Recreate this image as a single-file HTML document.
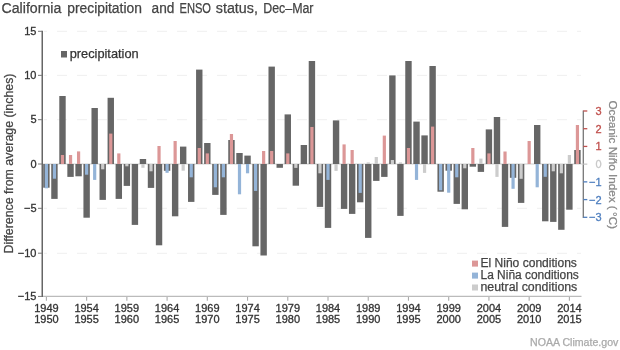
<!DOCTYPE html>
<html><head><meta charset="utf-8"><style>
html,body{margin:0;padding:0;background:#fff;width:620px;height:350px;overflow:hidden;}
svg{display:block;will-change:transform;}
</style></head><body>
<svg width="620" height="350" viewBox="0 0 620 350">
<style>
text{font-family:"Liberation Sans",sans-serif;}
.tk{font-size:11px;fill:#333333;stroke:#333333;stroke-width:0.3px;}
text{paint-order:normal;}
</style>
<rect x="0" y="0" width="620" height="350" fill="#ffffff"/>
<text x="1.50" y="12.9" font-size="14" fill="#444444" stroke="#444444" stroke-width="0.25" textLength="59.80" lengthAdjust="spacingAndGlyphs">California</text><text x="67.20" y="12.9" font-size="14" fill="#444444" stroke="#444444" stroke-width="0.25" textLength="74.70" lengthAdjust="spacingAndGlyphs">precipitation</text><text x="151.60" y="12.9" font-size="14" fill="#444444" stroke="#444444" stroke-width="0.25" textLength="22.80" lengthAdjust="spacingAndGlyphs">and</text><text x="179.50" y="12.9" font-size="14" fill="#444444" stroke="#444444" stroke-width="0.25" textLength="31.50" lengthAdjust="spacingAndGlyphs">ENSO</text><text x="215.80" y="12.9" font-size="14" fill="#444444" stroke="#444444" stroke-width="0.25" textLength="42.10" lengthAdjust="spacingAndGlyphs">status,</text><text x="263.20" y="12.9" font-size="14" fill="#444444" stroke="#444444" stroke-width="0.25" textLength="50.30" lengthAdjust="spacingAndGlyphs">Dec–Mar</text>
<line x1="44" y1="31.30" x2="581" y2="31.30" stroke="#efefef" stroke-width="1" stroke-dasharray="10 10" stroke-dashoffset="7"/><line x1="44" y1="75.35" x2="581" y2="75.35" stroke="#efefef" stroke-width="1" stroke-dasharray="10 10" stroke-dashoffset="7"/><line x1="44" y1="119.70" x2="581" y2="119.70" stroke="#efefef" stroke-width="1" stroke-dasharray="10 10" stroke-dashoffset="7"/><line x1="44" y1="208.30" x2="581" y2="208.30" stroke="#efefef" stroke-width="1" stroke-dasharray="10 10" stroke-dashoffset="7"/><line x1="44" y1="253.30" x2="581" y2="253.30" stroke="#efefef" stroke-width="1" stroke-dasharray="10 10" stroke-dashoffset="7"/>
<line x1="43" y1="164.0" x2="582" y2="164.0" stroke="#cfcfcf" stroke-width="1"/>
<rect x="43.20" y="164.00" width="6.40" height="23.70" fill="#666666"/><rect x="51.25" y="164.00" width="6.40" height="34.90" fill="#666666"/><rect x="59.29" y="96.00" width="6.40" height="68.00" fill="#666666"/><rect x="67.34" y="164.00" width="6.40" height="12.90" fill="#666666"/><rect x="75.38" y="164.00" width="6.40" height="12.30" fill="#666666"/><rect x="83.43" y="164.00" width="6.40" height="53.70" fill="#666666"/><rect x="91.48" y="108.00" width="6.40" height="56.00" fill="#666666"/><rect x="99.52" y="164.00" width="6.40" height="35.90" fill="#666666"/><rect x="107.57" y="97.80" width="6.40" height="66.20" fill="#666666"/><rect x="115.61" y="164.00" width="6.40" height="34.90" fill="#666666"/><rect x="123.66" y="164.00" width="6.40" height="21.90" fill="#666666"/><rect x="131.71" y="164.00" width="6.40" height="60.90" fill="#666666"/><rect x="139.75" y="159.00" width="6.40" height="5.00" fill="#666666"/><rect x="147.80" y="164.00" width="6.40" height="23.90" fill="#666666"/><rect x="155.84" y="164.00" width="6.40" height="81.30" fill="#666666"/><rect x="163.89" y="164.00" width="6.40" height="6.80" fill="#666666"/><rect x="171.94" y="164.00" width="6.40" height="52.30" fill="#666666"/><rect x="179.98" y="146.60" width="6.40" height="17.40" fill="#666666"/><rect x="188.03" y="164.00" width="6.40" height="37.90" fill="#666666"/><rect x="196.07" y="69.60" width="6.40" height="94.40" fill="#666666"/><rect x="204.12" y="143.00" width="6.40" height="21.00" fill="#666666"/><rect x="212.17" y="164.00" width="6.40" height="30.90" fill="#666666"/><rect x="220.21" y="164.00" width="6.40" height="50.90" fill="#666666"/><rect x="228.26" y="140.00" width="6.40" height="24.00" fill="#666666"/><rect x="236.30" y="153.00" width="6.40" height="11.00" fill="#666666"/><rect x="244.35" y="155.60" width="6.40" height="8.40" fill="#666666"/><rect x="252.40" y="164.00" width="6.40" height="82.30" fill="#666666"/><rect x="260.44" y="164.00" width="6.40" height="91.50" fill="#666666"/><rect x="268.49" y="66.60" width="6.40" height="97.40" fill="#666666"/><rect x="276.53" y="164.00" width="6.40" height="3.80" fill="#666666"/><rect x="284.58" y="114.40" width="6.40" height="49.60" fill="#666666"/><rect x="292.63" y="164.00" width="6.40" height="21.70" fill="#666666"/><rect x="300.67" y="145.00" width="6.40" height="19.00" fill="#666666"/><rect x="308.72" y="61.00" width="6.40" height="103.00" fill="#666666"/><rect x="316.76" y="164.00" width="6.40" height="42.90" fill="#666666"/><rect x="324.81" y="164.00" width="6.40" height="63.90" fill="#666666"/><rect x="332.86" y="120.40" width="6.40" height="43.60" fill="#666666"/><rect x="340.90" y="164.00" width="6.40" height="44.90" fill="#666666"/><rect x="348.95" y="164.00" width="6.40" height="49.90" fill="#666666"/><rect x="356.99" y="164.00" width="6.40" height="38.30" fill="#666666"/><rect x="365.04" y="164.00" width="6.40" height="73.90" fill="#666666"/><rect x="373.09" y="164.00" width="6.40" height="16.90" fill="#666666"/><rect x="381.13" y="164.00" width="6.40" height="12.90" fill="#666666"/><rect x="389.18" y="75.40" width="6.40" height="88.60" fill="#666666"/><rect x="397.22" y="164.00" width="6.40" height="51.90" fill="#666666"/><rect x="405.27" y="61.00" width="6.40" height="103.00" fill="#666666"/><rect x="413.32" y="121.60" width="6.40" height="42.40" fill="#666666"/><rect x="421.36" y="135.40" width="6.40" height="28.60" fill="#666666"/><rect x="429.41" y="66.00" width="6.40" height="98.00" fill="#666666"/><rect x="437.45" y="164.00" width="6.40" height="27.70" fill="#666666"/><rect x="445.50" y="164.00" width="6.40" height="6.70" fill="#666666"/><rect x="453.55" y="164.00" width="6.40" height="39.90" fill="#666666"/><rect x="461.59" y="164.00" width="6.40" height="45.30" fill="#666666"/><rect x="469.64" y="164.00" width="6.40" height="2.70" fill="#666666"/><rect x="477.68" y="164.00" width="6.40" height="7.90" fill="#666666"/><rect x="485.73" y="129.40" width="6.40" height="34.60" fill="#666666"/><rect x="493.78" y="117.00" width="6.40" height="47.00" fill="#666666"/><rect x="501.82" y="164.00" width="6.40" height="62.90" fill="#666666"/><rect x="509.87" y="164.00" width="6.40" height="13.80" fill="#666666"/><rect x="517.91" y="164.00" width="6.40" height="38.90" fill="#666666"/><rect x="534.01" y="125.00" width="6.40" height="39.00" fill="#666666"/><rect x="542.05" y="164.00" width="6.40" height="57.30" fill="#666666"/><rect x="550.10" y="164.00" width="6.40" height="57.90" fill="#666666"/><rect x="558.14" y="164.00" width="6.40" height="65.80" fill="#666666"/><rect x="566.19" y="164.00" width="6.40" height="45.70" fill="#666666"/><rect x="574.24" y="150.00" width="6.40" height="14.00" fill="#666666"/><rect x="44.80" y="164.00" width="3.20" height="24.30" fill="#94b4d8"/><rect x="52.85" y="164.00" width="3.20" height="14.70" fill="#94b4d8"/><rect x="60.89" y="155.00" width="3.20" height="9.00" fill="#dc9797"/><rect x="68.94" y="155.00" width="3.20" height="9.00" fill="#dc9797"/><rect x="76.98" y="151.40" width="3.20" height="12.60" fill="#dc9797"/><rect x="85.03" y="164.00" width="3.20" height="10.70" fill="#94b4d8"/><rect x="93.08" y="164.00" width="3.20" height="15.90" fill="#94b4d8"/><rect x="101.12" y="164.00" width="3.20" height="5.30" fill="#cccccc"/><rect x="109.17" y="133.60" width="3.20" height="30.40" fill="#dc9797"/><rect x="117.21" y="153.40" width="3.20" height="10.60" fill="#dc9797"/><rect x="125.26" y="164.00" width="3.20" height="2.30" fill="#cccccc"/><rect x="141.35" y="164.00" width="3.20" height="3.80" fill="#cccccc"/><rect x="149.40" y="164.00" width="3.20" height="7.30" fill="#cccccc"/><rect x="157.44" y="146.00" width="3.20" height="18.00" fill="#dc9797"/><rect x="165.49" y="164.00" width="3.20" height="8.80" fill="#94b4d8"/><rect x="173.54" y="141.00" width="3.20" height="23.00" fill="#dc9797"/><rect x="181.58" y="164.00" width="3.20" height="6.70" fill="#cccccc"/><rect x="189.63" y="164.00" width="3.20" height="13.30" fill="#94b4d8"/><rect x="197.67" y="148.00" width="3.20" height="16.00" fill="#dc9797"/><rect x="205.72" y="153.40" width="3.20" height="10.60" fill="#dc9797"/><rect x="213.77" y="164.00" width="3.20" height="23.30" fill="#94b4d8"/><rect x="221.81" y="164.00" width="3.20" height="13.30" fill="#94b4d8"/><rect x="229.86" y="134.00" width="3.20" height="30.00" fill="#dc9797"/><rect x="237.90" y="164.00" width="3.20" height="30.30" fill="#94b4d8"/><rect x="245.95" y="164.00" width="3.20" height="9.30" fill="#94b4d8"/><rect x="254.00" y="164.00" width="3.20" height="26.90" fill="#94b4d8"/><rect x="262.04" y="151.00" width="3.20" height="13.00" fill="#dc9797"/><rect x="270.09" y="151.00" width="3.20" height="13.00" fill="#dc9797"/><rect x="286.18" y="153.40" width="3.20" height="10.60" fill="#dc9797"/><rect x="294.23" y="164.00" width="3.20" height="3.90" fill="#cccccc"/><rect x="310.32" y="127.00" width="3.20" height="37.00" fill="#dc9797"/><rect x="318.36" y="164.00" width="3.20" height="9.30" fill="#cccccc"/><rect x="326.41" y="164.00" width="3.20" height="15.90" fill="#94b4d8"/><rect x="334.46" y="164.00" width="3.20" height="6.90" fill="#cccccc"/><rect x="342.50" y="144.40" width="3.20" height="19.60" fill="#dc9797"/><rect x="350.55" y="150.00" width="3.20" height="14.00" fill="#dc9797"/><rect x="358.59" y="164.00" width="3.20" height="28.90" fill="#94b4d8"/><rect x="366.64" y="162.40" width="3.20" height="1.60" fill="#cccccc"/><rect x="374.69" y="157.00" width="3.20" height="7.00" fill="#cccccc"/><rect x="382.73" y="135.60" width="3.20" height="28.40" fill="#dc9797"/><rect x="390.78" y="160.00" width="3.20" height="4.00" fill="#cccccc"/><rect x="398.82" y="162.40" width="3.20" height="1.60" fill="#cccccc"/><rect x="406.87" y="148.00" width="3.20" height="16.00" fill="#dc9797"/><rect x="414.92" y="164.00" width="3.20" height="15.90" fill="#94b4d8"/><rect x="422.96" y="164.00" width="3.20" height="8.90" fill="#cccccc"/><rect x="431.01" y="126.60" width="3.20" height="37.40" fill="#dc9797"/><rect x="439.05" y="164.00" width="3.20" height="26.30" fill="#94b4d8"/><rect x="447.10" y="164.00" width="3.20" height="28.70" fill="#94b4d8"/><rect x="455.15" y="164.00" width="3.20" height="13.30" fill="#94b4d8"/><rect x="463.19" y="164.00" width="3.20" height="4.30" fill="#cccccc"/><rect x="471.24" y="148.00" width="3.20" height="16.00" fill="#dc9797"/><rect x="479.28" y="158.60" width="3.20" height="5.40" fill="#cccccc"/><rect x="487.33" y="153.40" width="3.20" height="10.60" fill="#dc9797"/><rect x="495.38" y="164.00" width="3.20" height="12.90" fill="#cccccc"/><rect x="503.42" y="151.50" width="3.20" height="12.50" fill="#dc9797"/><rect x="511.47" y="164.00" width="3.20" height="24.80" fill="#94b4d8"/><rect x="519.51" y="164.00" width="3.20" height="14.80" fill="#cccccc"/><rect x="527.56" y="141.00" width="3.20" height="23.00" fill="#dc9797"/><rect x="535.61" y="164.00" width="3.20" height="23.30" fill="#94b4d8"/><rect x="543.65" y="164.00" width="3.20" height="12.80" fill="#94b4d8"/><rect x="551.70" y="164.00" width="3.20" height="7.30" fill="#cccccc"/><rect x="559.74" y="164.00" width="3.20" height="9.30" fill="#cccccc"/><rect x="567.79" y="155.00" width="3.20" height="9.00" fill="#cccccc"/><rect x="575.84" y="125.00" width="3.20" height="39.00" fill="#dc9797"/>
<line x1="42" y1="296.4" x2="581.5" y2="296.4" stroke="#bbbbbb" stroke-width="1.1"/>
<line x1="42.25" y1="30.7" x2="42.25" y2="296.9" stroke="#666666" stroke-width="1.5"/>
<line x1="38" y1="31.30" x2="42" y2="31.30" stroke="#777777" stroke-width="1"/><text x="36.5" y="34.90" text-anchor="end" class="tk">15</text><line x1="38" y1="75.35" x2="42" y2="75.35" stroke="#777777" stroke-width="1"/><text x="36.5" y="78.95" text-anchor="end" class="tk">10</text><line x1="38" y1="119.70" x2="42" y2="119.70" stroke="#777777" stroke-width="1"/><text x="36.5" y="123.30" text-anchor="end" class="tk">5</text><line x1="38" y1="164.00" x2="42" y2="164.00" stroke="#777777" stroke-width="1"/><text x="36.5" y="167.60" text-anchor="end" class="tk">0</text><line x1="38" y1="208.30" x2="42" y2="208.30" stroke="#777777" stroke-width="1"/><text x="36.5" y="211.90" text-anchor="end" class="tk">−5</text><line x1="38" y1="253.20" x2="42" y2="253.20" stroke="#777777" stroke-width="1"/><text x="36.5" y="256.80" text-anchor="end" class="tk">−10</text><line x1="38" y1="296.40" x2="42" y2="296.40" stroke="#777777" stroke-width="1"/><text x="36.5" y="300.00" text-anchor="end" class="tk">−15</text>
<line x1="46.40" y1="297" x2="46.40" y2="300.7" stroke="#aaaaaa" stroke-width="1.1"/><text x="46.40" y="312" text-anchor="middle" class="tk">1949</text><text x="46.40" y="322.7" text-anchor="middle" class="tk">1950</text><line x1="86.63" y1="297" x2="86.63" y2="300.7" stroke="#aaaaaa" stroke-width="1.1"/><text x="86.63" y="312" text-anchor="middle" class="tk">1954</text><text x="86.63" y="322.7" text-anchor="middle" class="tk">1955</text><line x1="126.86" y1="297" x2="126.86" y2="300.7" stroke="#aaaaaa" stroke-width="1.1"/><text x="126.86" y="312" text-anchor="middle" class="tk">1959</text><text x="126.86" y="322.7" text-anchor="middle" class="tk">1960</text><line x1="167.09" y1="297" x2="167.09" y2="300.7" stroke="#aaaaaa" stroke-width="1.1"/><text x="167.09" y="312" text-anchor="middle" class="tk">1964</text><text x="167.09" y="322.7" text-anchor="middle" class="tk">1965</text><line x1="207.32" y1="297" x2="207.32" y2="300.7" stroke="#aaaaaa" stroke-width="1.1"/><text x="207.32" y="312" text-anchor="middle" class="tk">1969</text><text x="207.32" y="322.7" text-anchor="middle" class="tk">1970</text><line x1="247.55" y1="297" x2="247.55" y2="300.7" stroke="#aaaaaa" stroke-width="1.1"/><text x="247.55" y="312" text-anchor="middle" class="tk">1974</text><text x="247.55" y="322.7" text-anchor="middle" class="tk">1975</text><line x1="287.78" y1="297" x2="287.78" y2="300.7" stroke="#aaaaaa" stroke-width="1.1"/><text x="287.78" y="312" text-anchor="middle" class="tk">1979</text><text x="287.78" y="322.7" text-anchor="middle" class="tk">1980</text><line x1="328.01" y1="297" x2="328.01" y2="300.7" stroke="#aaaaaa" stroke-width="1.1"/><text x="328.01" y="312" text-anchor="middle" class="tk">1984</text><text x="328.01" y="322.7" text-anchor="middle" class="tk">1985</text><line x1="368.24" y1="297" x2="368.24" y2="300.7" stroke="#aaaaaa" stroke-width="1.1"/><text x="368.24" y="312" text-anchor="middle" class="tk">1989</text><text x="368.24" y="322.7" text-anchor="middle" class="tk">1990</text><line x1="408.47" y1="297" x2="408.47" y2="300.7" stroke="#aaaaaa" stroke-width="1.1"/><text x="408.47" y="312" text-anchor="middle" class="tk">1994</text><text x="408.47" y="322.7" text-anchor="middle" class="tk">1995</text><line x1="448.70" y1="297" x2="448.70" y2="300.7" stroke="#aaaaaa" stroke-width="1.1"/><text x="448.70" y="312" text-anchor="middle" class="tk">1999</text><text x="448.70" y="322.7" text-anchor="middle" class="tk">2000</text><line x1="488.93" y1="297" x2="488.93" y2="300.7" stroke="#aaaaaa" stroke-width="1.1"/><text x="488.93" y="312" text-anchor="middle" class="tk">2004</text><text x="488.93" y="322.7" text-anchor="middle" class="tk">2005</text><line x1="529.16" y1="297" x2="529.16" y2="300.7" stroke="#aaaaaa" stroke-width="1.1"/><text x="529.16" y="312" text-anchor="middle" class="tk">2009</text><text x="529.16" y="322.7" text-anchor="middle" class="tk">2010</text><line x1="569.39" y1="297" x2="569.39" y2="300.7" stroke="#aaaaaa" stroke-width="1.1"/><text x="569.39" y="312" text-anchor="middle" class="tk">2014</text><text x="569.39" y="322.7" text-anchor="middle" class="tk">2015</text>
<line x1="583.3" y1="110.4" x2="583.3" y2="217.9" stroke="#777777" stroke-width="1.3"/>
<line x1="583.3" y1="110.99" x2="587.3" y2="110.99" stroke="#c0504d" stroke-width="1.3"/><text x="601.5" y="114.99" text-anchor="end" class="tk" style="fill:#c0504d;stroke:#c0504d">3</text><line x1="583.3" y1="128.71" x2="587.3" y2="128.71" stroke="#c0504d" stroke-width="1.3"/><text x="601.5" y="132.71" text-anchor="end" class="tk" style="fill:#c0504d;stroke:#c0504d">2</text><line x1="583.3" y1="146.43" x2="587.3" y2="146.43" stroke="#c0504d" stroke-width="1.3"/><text x="601.5" y="150.43" text-anchor="end" class="tk" style="fill:#c0504d;stroke:#c0504d">1</text><line x1="583.3" y1="164.15" x2="587.3" y2="164.15" stroke="#c8c8c8" stroke-width="1.3"/><text x="601.5" y="168.15" text-anchor="end" class="tk" style="fill:#c8c8c8;stroke:#c8c8c8">0</text><line x1="583.3" y1="181.87" x2="587.3" y2="181.87" stroke="#4f7fbf" stroke-width="1.3"/><text x="601.5" y="185.87" text-anchor="end" class="tk" style="fill:#4f7fbf;stroke:#4f7fbf">−1</text><line x1="583.3" y1="199.59" x2="587.3" y2="199.59" stroke="#4f7fbf" stroke-width="1.3"/><text x="601.5" y="203.59" text-anchor="end" class="tk" style="fill:#4f7fbf;stroke:#4f7fbf">−2</text><line x1="583.3" y1="217.31" x2="587.3" y2="217.31" stroke="#4f7fbf" stroke-width="1.3"/><text x="601.5" y="221.31" text-anchor="end" class="tk" style="fill:#4f7fbf;stroke:#4f7fbf">−3</text>
<text transform="translate(13.2,253.5) rotate(-90)" font-size="12" fill="#444444" stroke="#444444" stroke-width="0.25" textLength="180" lengthAdjust="spacingAndGlyphs">Difference from average (inches)</text>
<text transform="translate(609.3,100.5) rotate(90)" font-size="11.5" fill="#888888" stroke="#888888" stroke-width="0.25" textLength="128.5" lengthAdjust="spacingAndGlyphs">Oceanic Niño Index ( °C)</text>
<rect x="61" y="51" width="6" height="6.5" fill="#666666"/>
<text x="69.7" y="57.8" font-size="12.6" fill="#333333" stroke="#333333" stroke-width="0.25" textLength="69" lengthAdjust="spacingAndGlyphs">precipitation</text>
<rect x="472" y="260.6" width="6" height="6" fill="#dc9797"/>
<rect x="472" y="272.6" width="6" height="6" fill="#94b4d8"/>
<rect x="472" y="284.5" width="6" height="6" fill="#cccccc"/>
<text x="480.5" y="267.2" font-size="12" fill="#444444" stroke="#444444" stroke-width="0.25" textLength="96.4" lengthAdjust="spacingAndGlyphs">El Niño conditions</text>
<text x="480.5" y="279.2" font-size="12" fill="#444444" stroke="#444444" stroke-width="0.25" textLength="98.3" lengthAdjust="spacingAndGlyphs">La Niña conditions</text>
<text x="480.5" y="291.2" font-size="12" fill="#444444" stroke="#444444" stroke-width="0.25" textLength="96.8" lengthAdjust="spacingAndGlyphs">neutral conditions</text>
<text x="530" y="345.7" font-size="10.2" fill="#aaaaaa" stroke="#aaaaaa" stroke-width="0.25" textLength="88.4" lengthAdjust="spacingAndGlyphs">NOAA Climate.gov</text>
</svg>
</body></html>
